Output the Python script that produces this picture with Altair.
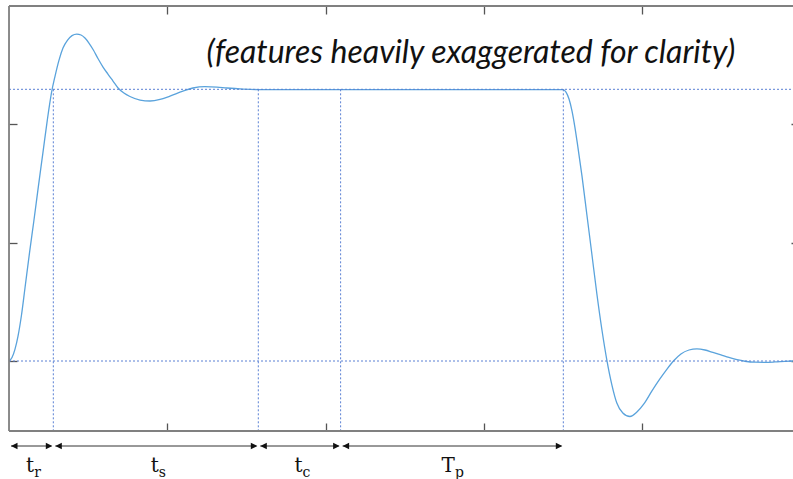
import altair as alt
import pandas as pd

# ---- data (x: time units, y: response units) ----
curve_t = [0.000, 0.019, 0.038, 0.057, 0.079, 0.101, 0.131, 0.157, 0.185, 0.214,
           0.242, 0.268, 0.291, 0.316, 0.341, 0.370, 0.398, 0.428, 0.455, 0.480,
           0.505, 0.533, 0.562, 0.594, 0.625, 0.657, 0.689, 0.726, 0.764, 0.828,
           0.891, 0.954, 1.017, 1.099, 1.162, 1.238, 1.314, 1.377, 1.478, 1.573,
           2.470, 3.481,
           3.500, 3.519, 3.538, 3.557, 3.575, 3.594, 3.620, 3.651, 3.683, 3.714,
           3.746, 3.777, 3.809, 3.840, 3.878, 3.923, 3.967, 4.011, 4.062, 4.112,
           4.157, 4.201, 4.245, 4.296, 4.346, 4.397, 4.447, 4.498, 4.548, 4.599,
           4.649, 4.713, 4.776, 4.839, 4.902, 4.953]
curve_y = [0.000, 0.030, 0.101, 0.211, 0.389, 0.617, 0.929, 1.183, 1.470, 1.757,
           2.036, 2.264, 2.408, 2.543, 2.645, 2.712, 2.750, 2.763, 2.755, 2.729,
           2.687, 2.628, 2.556, 2.484, 2.425, 2.366, 2.307, 2.264, 2.235, 2.205,
           2.197, 2.210, 2.239, 2.281, 2.307, 2.319, 2.315, 2.307, 2.298, 2.294,
           2.294, 2.294,
           2.294, 2.273, 2.214, 2.112, 1.977, 1.808, 1.563, 1.234, 0.896, 0.566,
           0.262, 0.008, -0.203, -0.355, -0.439, -0.469, -0.431, -0.363, -0.253, -0.152,
           -0.068, 0.004, 0.059, 0.093, 0.103, 0.093, 0.072, 0.051, 0.030, 0.011,
           -0.002, -0.010, -0.011, -0.008, -0.003, 0.000]

ref_levels = [0.0, 2.296]
boundaries = [0.0, 0.280, 1.575, 2.095, 3.502]
main_labels = ["t", "t", "t", "T"]
sub_labels = ["r", "s", "c", "p"]
x_ticks = [1, 2, 3, 4]
y_ticks = [0, 1, 2]
note_text = ["(features heavily exaggerated for clarity)"]

X_DOMAIN = [0, 4.953]
Y_DOMAIN = [-0.5915, 3.0]

curve_df = pd.DataFrame({"t": curve_t, "y": curve_y})
hl_df = pd.DataFrame({"lvl": ref_levels})
vl_df = pd.DataFrame({"x": boundaries[1:], "top": [ref_levels[1]] * 4,
                      "bot": [Y_DOMAIN[0]] * 4})
seg_df = pd.DataFrame({
    "start": boundaries[:-1],
    "end": boundaries[1:],
    "mid": [(a + b) / 2 for a, b in zip(boundaries[:-1], boundaries[1:])],
    "main": main_labels,
    "sub": sub_labels,
})
one = pd.DataFrame({"a": [0]})
note_df = pd.DataFrame({"txt": note_text})

xs = alt.Scale(domain=X_DOMAIN, nice=False, zero=False)
ys = alt.Scale(domain=Y_DOMAIN, nice=False, zero=False)

TICK = "#555555"
FRAME = "#808080"
DASH = "#5a80d4"
LINE = "#5aa3dc"

bottom_axis = alt.Axis(orient="bottom", values=x_ticks, labels=False, domain=False,
                       grid=False, title=None, tickSize=8, offset=-8,
                       tickColor=TICK, tickWidth=1.3)
left_axis = alt.Axis(orient="left", values=y_ticks, labels=False, domain=False,
                     grid=False, title=None, tickSize=8, offset=-8,
                     tickColor=TICK, tickWidth=1.3)
top_axis = alt.Axis(orient="top", values=x_ticks, labels=False, domain=False,
                    grid=False, title=None, tickSize=8, offset=-8,
                    tickColor=TICK, tickWidth=1.3)
right_axis = alt.Axis(orient="right", values=y_ticks, labels=False, domain=False,
                      grid=False, title=None, tickSize=2, offset=-2,
                      tickColor=TICK, tickWidth=1.3)

# dashed horizontal reference lines (carry right axis)
hlines = alt.Chart(hl_df).mark_rule(color=DASH, strokeWidth=1, strokeDash=[2, 2]).encode(
    y=alt.Y("lvl:Q", scale=ys, axis=right_axis),
    x=alt.value(0), x2=alt.value("width"),
)
# dashed vertical markers (carry top axis)
vlines = alt.Chart(vl_df).mark_rule(color=DASH, strokeWidth=1, strokeDash=[2, 2]).encode(
    x=alt.X("x:Q", scale=xs, axis=top_axis),
    y=alt.Y("top:Q", scale=ys, axis=None),
    y2="bot:Q",
)

curve = alt.Chart(curve_df).mark_line(color=LINE, strokeWidth=1.3,
                                      interpolate="monotone").encode(
    x=alt.X("t:Q", scale=xs, axis=bottom_axis),
    y=alt.Y("y:Q", scale=ys, axis=left_axis),
)

# frame (left, top, bottom)
frame_top = alt.Chart(one).mark_rule(color=FRAME, strokeWidth=1.8).encode(
    x=alt.value(0), x2=alt.value("width"), y=alt.value(0))
frame_bot = alt.Chart(one).mark_rule(color=FRAME, strokeWidth=1.8).encode(
    x=alt.value(0), x2=alt.value("width"), y=alt.value("height"))
frame_left = alt.Chart(one).mark_rule(color=FRAME, strokeWidth=1.8).encode(
    x=alt.value(0), y=alt.value(0), y2=alt.value("height"))

# interval arrows below the axis
ARROW_Y = 440
arrows = alt.Chart(seg_df).mark_rule(color="#333333", strokeWidth=1,
                                     xOffset=2, x2Offset=-2).encode(
    x=alt.X("start:Q", scale=xs, axis=None), x2="end:Q", y=alt.value(ARROW_Y))
head_r = alt.Chart(seg_df).mark_point(shape="M0,0L-1,-0.5L-1,0.5Z", filled=True,
                                      color="#111111", size=169, opacity=1,
                                      xOffset=-1).encode(
    x=alt.X("end:Q", scale=xs, axis=None), y=alt.value(ARROW_Y))
head_l = alt.Chart(seg_df).mark_point(shape="M0,0L1,-0.5L1,0.5Z", filled=True,
                                      color="#111111", size=169, opacity=1,
                                      xOffset=2).encode(
    x=alt.X("start:Q", scale=xs, axis=None), y=alt.value(ARROW_Y))

lab_main = alt.Chart(seg_df).mark_text(font="DejaVu Serif", fontSize=20, align="right",
                                       baseline="alphabetic", dx=3, color="#111111").encode(
    x=alt.X("mid:Q", scale=xs, axis=None), y=alt.value(466), text="main:N")
lab_sub = alt.Chart(seg_df).mark_text(font="DejaVu Serif", fontSize=14, align="left",
                                      baseline="alphabetic", dx=3, color="#111111").encode(
    x=alt.X("mid:Q", scale=xs, axis=None), y=alt.value(471), text="sub:N")

note = alt.Chart(note_df).mark_text(font="Lato", fontStyle="italic", fontSize=32,
                                    align="center", baseline="alphabetic",
                                    color="#111111").encode(
    x=alt.value(462), y=alt.value(57), text="txt:N")

chart = alt.layer(
    curve, hlines, vlines, frame_top, frame_bot, frame_left,
    arrows, head_r, head_l, lab_main, lab_sub, note,
).resolve_axis(x="independent", y="independent").properties(
    width=784, height=425,
    padding={"left": 9, "top": 6, "right": 0, "bottom": 48},
    autosize=alt.AutoSizeParams(type="none"),
).configure_view(stroke=None).configure(background="white")

chart.save("out.html", embed_options={"renderer": "svg", "actions": False})
